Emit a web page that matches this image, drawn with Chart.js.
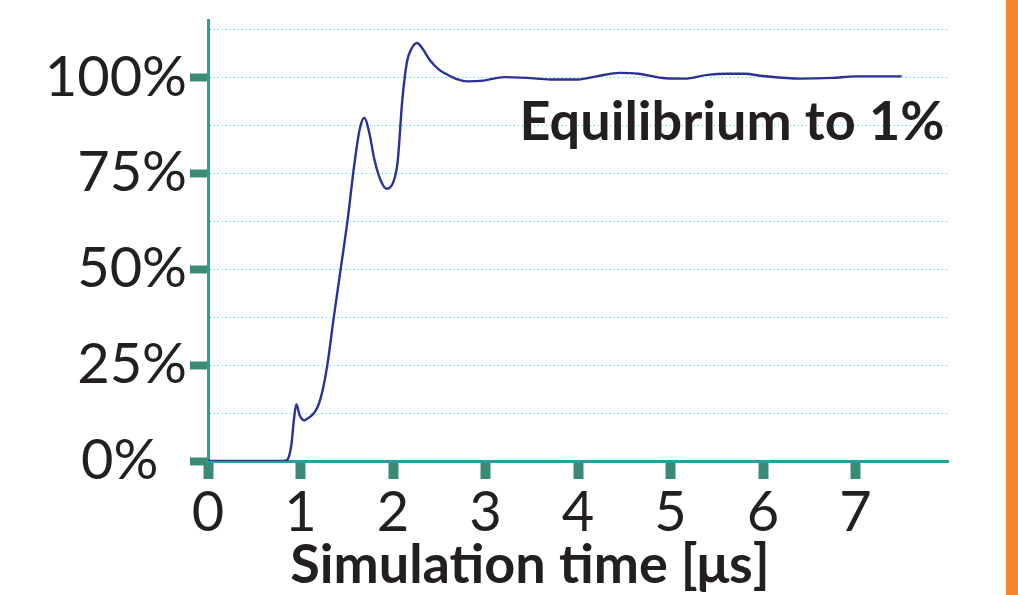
<!DOCTYPE html>
<html>
<head>
<meta charset="utf-8">
<script src="https://cdn.jsdelivr.net/npm/chart.js"></script>
<style>
  html, body { margin: 0; padding: 0; background: #fff; }
  #wrap { position: relative; width: 1018px; height: 595px; }
  #bar { position: absolute; right: 0; top: 0; width: 12px; height: 595px; background: #f5862a; }
</style>
</head>
<body>
<div id="wrap">
  <canvas id="eq_canvas" width="1018" height="595"></canvas>
  <div id="bar"></div>
</div>
<script>
// simulation time in microseconds
var simTime = [0, 0.5, 0.82, 0.86, 0.9, 0.93, 0.955, 0.99, 1.04, 1.1, 1.15, 1.2, 1.24, 1.29, 1.36,
  1.44, 1.51, 1.58, 1.64, 1.69, 1.74, 1.8, 1.87, 1.93, 1.96, 2.0, 2.05, 2.1, 2.15, 2.2, 2.26,
  2.32, 2.4, 2.5, 2.6, 2.7, 2.8, 2.98, 3.2, 3.45, 3.7, 4.0, 4.2, 4.45, 4.65, 4.95, 5.15, 5.4,
  5.6, 5.8, 6.0, 6.4, 6.75, 7.0, 7.5];
// percent of equilibrium value
var level = [0, 0, 0, 0.4, 4, 11, 14.8, 12, 10.6, 11.5, 12.6, 15, 18.5, 25, 37.5,
  51, 63, 77, 86.5, 89.5, 86, 78.5, 73, 71, 71.2, 72.5, 78, 94, 104, 107.5, 109,
  107.5, 104.5, 102, 100.6, 99.5, 99, 99.2, 100.1, 99.9, 99.5, 99.5, 100.3, 101.2, 101, 99.8, 99.7, 100.7,
  101, 101, 100.4, 99.7, 99.9, 100.3, 100.3];
var xTicks = [0, 1, 2, 3, 4, 5, 6, 7];
var yTicks = [0, 12.5, 25, 37.5, 50, 62.5, 75, 87.5, 100, 112.5];
var yLabels = { 0: '0%  ', 25: '25%', 50: '50%', 75: '75%', 100: '100%' };
var xTitle = 'Simulation time [\u03bcs]';
var note = 'Equilibrium to 1%';

var points = [];
for (var i in simTime) {
  points.push({ x: simTime[i], y: level[i] });
}

var teal = '#28a198';
var tickGreen = '#3a8a78';

var textPlugin = {
  id: 'texts',
  afterDraw: function(chart) {
    var ctx = chart.ctx;
    ctx.save();
    ctx.fillStyle = '#231f20';
    ctx.textAlign = 'center';
    ctx.textBaseline = 'alphabetic';
    ctx.font = 'bold 54px Lato';
    ctx.fillText(note, 732, 140);
    ctx.fillText(xTitle, 530, 583);
    ctx.restore();
  }
};

var ctx1 = document.getElementById('eq_canvas');
var chart = new Chart(ctx1, {
  type: 'line',
  data: {
    datasets: [{
      data: points,
      borderColor: '#2c3196',
      borderWidth: 2.4,
      pointRadius: 0,
      fill: false,
      cubicInterpolationMode: 'monotone'
    }]
  },
  options: {
    responsive: false,
    animation: false,
    layout: { padding: { top: 20, right: 70, left: 0, bottom: 0 } },
    plugins: { legend: { display: false }, tooltip: { enabled: false } },
    scales: {
      x: {
        type: 'linear',
        min: 0,
        max: 8,
        afterBuildTicks: function(scale) {
          scale.ticks = xTicks.map(function(v) { return { value: v }; });
        },
        afterFit: function(scale) {
          scale.height = 134;
          scale.paddingLeft = 0;
          scale.paddingRight = 0;
        },
        grid: {
          drawOnChartArea: false,
          tickLength: 18,
          tickWidth: 10,
          tickColor: tickGreen
        },
        border: { color: teal, width: 3 },
        ticks: {
          color: '#231f20',
          font: { family: 'Lato', size: 56 },
          padding: 0,
          autoSkip: false,
          maxRotation: 0
        }
      },
      y: {
        min: 0,
        max: 115,
        afterBuildTicks: function(scale) {
          scale.ticks = yTicks.map(function(v) { return { value: v }; });
        },
        afterFit: function(scale) {
          scale.width = 208;
          scale.paddingTop = 0;
          scale.paddingBottom = 0;
        },
        grid: {
          color: '#6cc6bf',
          lineWidth: 1,
          tickLength: 18,
          tickWidth: function(c) { return c.tick && c.tick.value % 25 === 0 ? 8 : 1; },
          tickColor: function(c) { return c.tick && c.tick.value % 25 === 0 ? tickGreen : 'rgba(0,0,0,0)'; }
        },
        border: { color: teal, width: 3, dash: [1, 3] },
        ticks: {
          color: '#231f20',
          font: { family: 'Lato', size: 56 },
          padding: 3,
          autoSkip: false,
          callback: function(value) { return yLabels[value] || ''; }
        }
      }
    }
  },
  plugins: [textPlugin]
});
</script>
</body>
</html>
